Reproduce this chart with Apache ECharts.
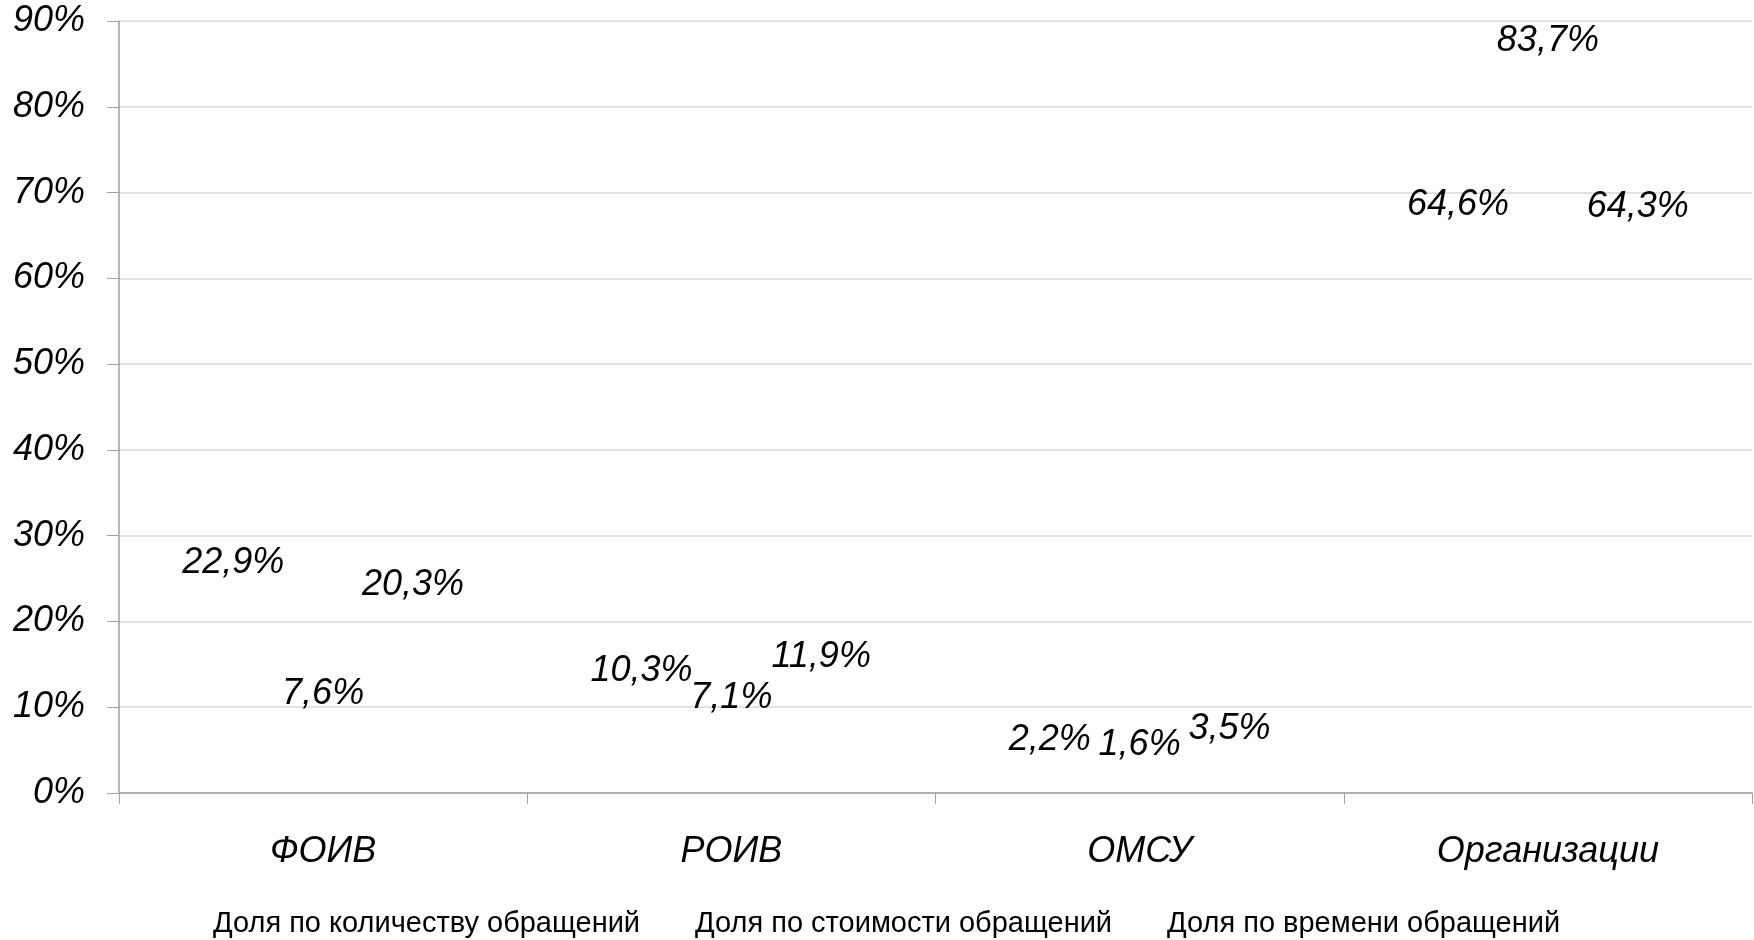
<!DOCTYPE html>
<html>
<head>
<meta charset="utf-8">
<script src="https://cdn.jsdelivr.net/npm/echarts@6/dist/echarts.min.js"></script>
<style>html,body{margin:0;padding:0;background:#fff}#c{width:1754px;height:940px}</style>
</head>
<body>
<div id="c"></div>
<script>
const categories = ['ФОИВ', 'РОИВ', 'ОМСУ', 'Организации'];
const seriesNames = ['Доля по количеству обращений', 'Доля по стоимости обращений', 'Доля по времени обращений'];
const countShare = [22.9, 10.3, 2.2, 64.6];
const costShare = [7.6, 7.1, 1.6, 83.7];
const timeShare = [20.3, 11.9, 3.5, 64.3];
const yTicks = [0, 10, 20, 30, 40, 50, 60, 70, 80, 90];

const FONT = 'Liberation Sans, Arial, sans-serif';
const chart = echarts.init(document.getElementById('c'));
const mk = (name, data) => ({
  name, type: 'bar', data,
  barGap: '0%', barCategoryGap: '34%',
  itemStyle: { color: 'rgba(255,255,255,0)' },
  label: {
    show: true, position: 'top', distance: 16,
    fontFamily: FONT, fontSize: 36, fontStyle: 'italic', color: '#000',
    formatter: p => String(p.value).replace('.', ',') + '%'
  }
});
chart.setOption({
  animation: false,
  backgroundColor: '#fff',
  grid: { left: 119, right: 2, top: 21, bottom: 147, containLabel: false },
  legend: {
    data: seriesNames, left: 189, top: 904,
    itemWidth: 14, itemHeight: 14, itemGap: 36,
    icon: 'rect',
    itemStyle: { color: 'rgba(255,255,255,0)', borderWidth: 0 },
    textStyle: { fontFamily: FONT, fontSize: 29, color: '#000' },
    selectedMode: false
  },
  xAxis: {
    type: 'category', data: categories,
    axisLine: { lineStyle: { color: '#a0a0a0', width: 1.5 } },
    axisTick: { show: true, length: 11, lineStyle: { color: '#a0a0a0' } },
    axisLabel: { margin: 41, fontFamily: FONT, fontSize: 36, fontStyle: 'italic', color: '#000' }
  },
  yAxis: {
    type: 'value', min: yTicks[0], max: yTicks[yTicks.length - 1], interval: 10,
    axisLine: { show: true, lineStyle: { color: '#a0a0a0', width: 1.5 } },
    axisTick: { show: true, length: 12, lineStyle: { color: '#a0a0a0' } },
    splitLine: { lineStyle: { color: '#d9d9d9', width: 1.5 } },
    axisLabel: { margin: 34, padding: [7, 0, 0, 0], fontFamily: FONT, fontSize: 36, fontStyle: 'italic', color: '#000', formatter: '{value}%' }
  },
  series: [mk(seriesNames[0], countShare), mk(seriesNames[1], costShare), mk(seriesNames[2], timeShare)]
});
</script>
</body>
</html>
